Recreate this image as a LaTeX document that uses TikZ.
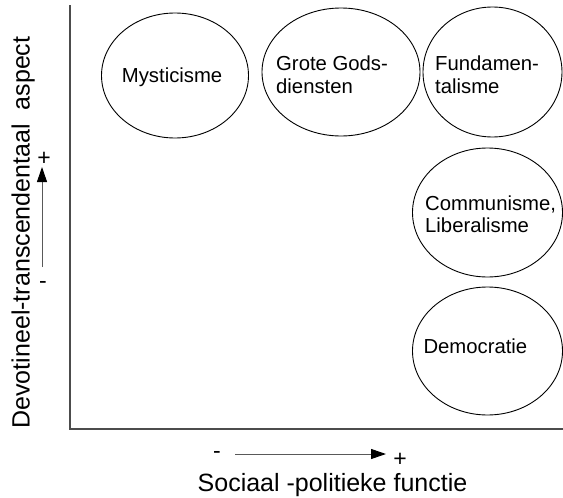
\documentclass[tikz,border=0pt]{standalone}
\usepackage{fontspec}
\setmainfont{Liberation Sans}
\usetikzlibrary{shapes.geometric,arrows.meta}
\tikzset{
  bubble/.style={draw=black, line width=0.9pt, ellipse, inner sep=0pt},
  txt/.style={anchor=base west, inner sep=0pt, font=\fontsize{20.3}{23}\selectfont},
  axislabel/.style={anchor=base, inner sep=0pt, font=\fontsize{25}{28}\selectfont},
  sign/.style={inner sep=0pt, font=\fontsize{23}{25}\selectfont},
  axisline/.style={draw=black!70, line width=1.3pt},
  dirarrow/.style={draw=black!65, line width=1pt, -{Triangle[length=15pt,width=10pt,color=black,fill=black]}}
}
\begin{document}
\begin{tikzpicture}[x=1pt,y=-1pt]
\useasboundingbox (0,0) rectangle (563,498);
% axes
\coordinate (top) at (70,5);
\coordinate (origin) at (70,429);
\coordinate (right) at (563,429);
\draw[axisline] (top) -- (origin) -- (right);
% ellipses
\node[bubble, minimum width=147pt, minimum height=125pt] (mys) at (175,75.5) {};
\node[bubble, minimum width=158pt, minimum height=128pt] (grote) at (341,72) {};
\node[bubble, minimum width=139pt, minimum height=130pt] (fund) at (492.5,72) {};
\node[bubble, minimum width=150pt, minimum height=129pt] (comm) at (487.5,212.5) {};
\node[bubble, minimum width=150pt, minimum height=128pt] (demo) at (487.5,351) {};
% texts
\node[txt] (tmys) at (121.7,82.7) {Mysticisme};
\node[txt] (tgrote1) at (276,70) {Grote Gods-};
\node[txt] (tgrote2) at (276,93.3) {diensten};
\node[txt] (tfund1) at (435,70) {Fundamen-};
\node[txt] (tfund2) at (435,93.3) {talisme};
\node[txt] (tcomm1) at (425,210) {Communisme,};
\node[txt] (tcomm2) at (425,232) {Liberalisme};
\node[txt] (tdemo) at (423.3,353.3) {Democratie};
% axis labels
\node[axislabel] (xlabel) at (332.5,491.7) {Sociaal -politieke functie};
\node[axislabel, rotate=90] (ylabel) at (29.5,232.5) {Devotineel-transcendentaal\ \ aspect};
% direction arrows
\coordinate (hs) at (235,454);
\coordinate (he) at (386,454);
\draw[dirarrow] (hs) -- (he);
\node[sign] (hminus) at (217,455) {-};
\node[sign] (hplus) at (400,460) {+};
\coordinate (vs) at (42,267);
\coordinate (ve) at (42,167);
\draw[dirarrow] (vs) -- (ve);
\node[sign] (vplus) at (44,159) {+};
\node[sign] (vminus) at (43,285) {-};
\end{tikzpicture}
\end{document}
